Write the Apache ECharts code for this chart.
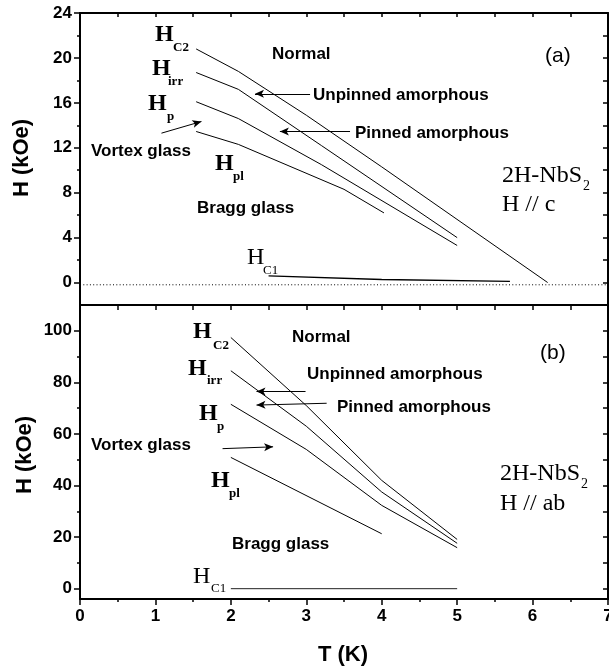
<!DOCTYPE html>
<html>
<head>
<meta charset="utf-8">
<script src="https://cdn.jsdelivr.net/npm/echarts@6/dist/echarts.min.js"></script>
<style>
html,body{margin:0;padding:0;background:#fff;}
#chart{width:609px;height:670px;}
</style>
</head>
<body>
<div id="chart"></div>
<script>
// ---------- Panel (a): H // c ----------
const aHc2T  = [1.54, 2.1, 3.0, 4.0, 6.2];
const aHc2H  = [20.8, 18.8, 14.9, 10.3, 0];
const aHirrT = [1.54, 2.1, 3.2, 5.0];
const aHirrH = [18.7, 17.2, 12.2, 4.0];
const aHpT   = [1.54, 2.1, 3.2, 5.0];
const aHpH   = [16.1, 14.6, 10.5, 3.3];
const aHplT  = [1.54, 2.1, 3.5, 4.03];
const aHplH  = [13.45, 12.3, 8.3, 6.2];
const aHc1T  = [2.5, 4.0, 5.7];
const aHc1H  = [0.6, 0.27, 0.1];
const aBaseT = [0, 7];
const aBaseH = [-0.2, -0.2];

// ---------- Panel (b): H // ab ----------
const bHc2T  = [2.0, 3.0, 4.0, 5.0];
const bHc2H  = [97.4, 71.0, 42.0, 19.1];
const bHirrT = [2.0, 3.0, 4.0, 5.0];
const bHirrH = [84.5, 63.0, 37.5, 17.6];
const bHpT   = [2.0, 3.0, 4.0, 5.0];
const bHpH   = [71.5, 54.0, 32.3, 15.9];
const bHplT  = [2.0, 4.0];
const bHplH  = [50.9, 21.3];
const bHc1T  = [2.0, 5.0];
const bHc1H  = [0, 0];

// ---------- Tick labels ----------
const xTicks      = [0, 1, 2, 3, 4, 5, 6, 7];
const aYTicks     = [0, 4, 8, 12, 16, 20, 24];
const aYMinor     = [2, 6, 10, 14, 18, 22];
const aYRight     = [0, 2, 4, 6, 8, 10, 12, 14, 16, 18, 20, 22];
const bYTicks     = [0, 20, 40, 60, 80, 100];
const bYMinor     = [10, 30, 50, 70, 90];
const bYRight     = [0, 10, 20, 30, 40, 50, 60, 70, 80, 90, 100];

const zip = (xs, ys) => xs.map((x, i) => [x, ys[i]]);

const SANS = 'Liberation Sans, Arial, sans-serif';
const SERIF = 'Liberation Serif, Times New Roman, serif';
const tickLabel = {fontFamily: SANS, fontWeight: 'bold', fontSize: 17, color: '#000'};
const axLine = {show: true, onZero: false, lineStyle: {color: '#000', width: 2}};
const noLine = {show: false, onZero: false};

function lineSeries(xi, yi, data, extra) {
  return Object.assign({
    type: 'line', xAxisIndex: xi, yAxisIndex: yi, data: data,
    showSymbol: false, symbol: 'none', silent: true, animation: false,
    lineStyle: {color: '#000', width: 1}
  }, extra || {});
}

function arrows(list) {
  return {
    silent: true, animation: false, symbol: ['none', 'arrow'], symbolSize: [6, 9],
    label: {show: false},
    lineStyle: {color: '#000', width: 1, type: 'solid'},
    data: list.map(a => [{coord: a[0]}, {coord: a[1]}])
  };
}

const chart = echarts.init(document.getElementById('chart'), null, {renderer: 'canvas'});

// text helpers (y given as baseline)
function txt(s, x, base, size, family, weight) {
  return {type: 'text', silent: true, style: {
    text: s, x: x, y: base - 0.35 * size, fontSize: size, fontFamily: family,
    fontWeight: weight, fill: '#000', textAlign: 'left', textVerticalAlign: 'middle'}};
}
function hlabel(x, base, sub, subX, subBase, bold) {
  const w = bold ? 'bold' : 'normal';
  return [txt('H', x, base, 24, SERIF, w), txt(sub, subX, subBase, 13, SERIF, w)];
}

const graphics = [].concat(
  // panel a
  hlabel(155, 43, 'C2', 173, 52, true),
  hlabel(152, 77, 'irr', 168, 86, true),
  hlabel(148, 112, 'p', 167, 121, true),
  hlabel(215, 172, 'pl', 233, 181, true),
  hlabel(247, 266, 'C1', 263, 275, false),
  [
    txt('Normal', 272, 60, 17, SANS, 'bold'),
    txt('Unpinned amorphous', 313, 101, 17, SANS, 'bold'),
    txt('Pinned amorphous', 355, 139, 17, SANS, 'bold'),
    txt('Vortex glass', 91, 157, 17, SANS, 'bold'),
    txt('Bragg glass', 197, 214, 17, SANS, 'bold'),
    txt('(a)', 545, 64, 21, SANS, 'normal'),
    txt('2H-NbS', 502, 184, 24, SERIF, 'normal'),
    txt('2', 583, 191, 14, SERIF, 'normal'),
    txt('H // c', 502, 213, 24, SERIF, 'normal')
  ],
  // panel b
  hlabel(193, 340, 'C2', 213, 350, true),
  hlabel(188, 377, 'irr', 207, 385, true),
  hlabel(199, 422, 'p', 217, 431, true),
  hlabel(211, 489, 'pl', 229, 498, true),
  hlabel(193, 585, 'C1', 211, 593, false),
  [
    txt('Normal', 292, 343, 17, SANS, 'bold'),
    txt('Unpinned amorphous', 307, 380, 17, SANS, 'bold'),
    txt('Pinned amorphous', 337, 413, 17, SANS, 'bold'),
    txt('Vortex glass', 91, 451, 17, SANS, 'bold'),
    txt('Bragg glass', 232, 550, 17, SANS, 'bold'),
    txt('(b)', 540, 361, 21, SANS, 'normal'),
    txt('2H-NbS', 500, 482, 24, SERIF, 'normal'),
    txt('2', 581, 489, 14, SERIF, 'normal'),
    txt('H // ab', 500, 512, 24, SERIF, 'normal')
  ],
  // axis titles
  [
    {type: 'text', silent: true, rotation: Math.PI / 2, x: 22, y: 158, style: {
      text: 'H (kOe)', x: 0, y: 0, fontSize: 22, fontFamily: SANS, fontWeight: 'bold',
      fill: '#000', textAlign: 'center', textVerticalAlign: 'middle'}},
    {type: 'text', silent: true, rotation: Math.PI / 2, x: 25, y: 455, style: {
      text: 'H (kOe)', x: 0, y: 0, fontSize: 22, fontFamily: SANS, fontWeight: 'bold',
      fill: '#000', textAlign: 'center', textVerticalAlign: 'middle'}},
    {type: 'text', silent: true, style: {
      text: 'T (K)', x: 343, y: 655, fontSize: 22, fontFamily: SANS, fontWeight: 'bold',
      fill: '#000', textAlign: 'center', textVerticalAlign: 'middle'}}
  ]
);

const option = {
  animation: false,
  backgroundColor: '#fff',
  grid: [
    {left: 80, top: 13, width: 528, height: 292, containLabel: false, outerBoundsMode: 'none'},
    {left: 80, top: 305, width: 528, height: 294, containLabel: false, outerBoundsMode: 'none'}
  ],
  xAxis: [
    {gridIndex: 0, type: 'value', position: 'bottom', min: 0, max: 7, interval: 1,
     axisLine: axLine, axisTick: {show: false}, axisLabel: {show: false}, splitLine: {show: false}},
    {gridIndex: 0, type: 'value', position: 'top', min: 0, max: 7, interval: 0.5,
     axisLine: axLine, axisTick: {show: true, inside: true, length: 4, lineStyle: {color: '#000', width: 1.5}},
     axisLabel: {show: false}, splitLine: {show: false}},
    {gridIndex: 1, type: 'value', position: 'bottom', min: 0, max: 7, interval: 1,
     axisLine: axLine,
     axisTick: {show: true, inside: false, length: 6, lineStyle: {color: '#000', width: 1.5}},
     minorTick: {show: true, splitNumber: 2, length: 3, lineStyle: {color: '#000', width: 1.5}},
     axisLabel: Object.assign({show: true, margin: 9, customValues: xTicks}, tickLabel),
     splitLine: {show: false}, minorSplitLine: {show: false}},
    {gridIndex: 1, type: 'value', position: 'top', min: 0, max: 7, interval: 0.5,
     axisLine: axLine, axisTick: {show: true, inside: true, length: 5, lineStyle: {color: '#000', width: 1.5}},
     axisLabel: {show: false}, splitLine: {show: false}}
  ],
  yAxis: [
    {gridIndex: 0, type: 'value', position: 'left', min: -2, max: 24,
     axisLine: axLine,
     axisTick: {show: true, inside: false, length: 6, customValues: aYTicks, lineStyle: {color: '#000', width: 1.5}},
     axisLabel: Object.assign({show: true, margin: 8, customValues: aYTicks}, tickLabel),
     splitLine: {show: false}},
    {gridIndex: 0, type: 'value', position: 'left', min: -2, max: 24,
     axisLine: noLine,
     axisTick: {show: true, inside: false, length: 3, customValues: aYMinor, lineStyle: {color: '#000', width: 1.5}},
     axisLabel: {show: false}, splitLine: {show: false}},
    {gridIndex: 0, type: 'value', position: 'right', min: -2, max: 24,
     axisLine: axLine,
     axisTick: {show: true, inside: true, length: 5, customValues: aYRight, lineStyle: {color: '#000', width: 1.5}},
     axisLabel: {show: false}, splitLine: {show: false}},
    {gridIndex: 1, type: 'value', position: 'left', min: -4, max: 110,
     axisLine: axLine,
     axisTick: {show: true, inside: false, length: 6, customValues: bYTicks, lineStyle: {color: '#000', width: 1.5}},
     axisLabel: Object.assign({show: true, margin: 8, customValues: bYTicks}, tickLabel),
     splitLine: {show: false}},
    {gridIndex: 1, type: 'value', position: 'left', min: -4, max: 110,
     axisLine: noLine,
     axisTick: {show: true, inside: false, length: 3, customValues: bYMinor, lineStyle: {color: '#000', width: 1.5}},
     axisLabel: {show: false}, splitLine: {show: false}},
    {gridIndex: 1, type: 'value', position: 'right', min: -4, max: 110,
     axisLine: axLine,
     axisTick: {show: true, inside: true, length: 5, customValues: bYRight, lineStyle: {color: '#000', width: 1.5}},
     axisLabel: {show: false}, splitLine: {show: false}}
  ],
  series: [
    lineSeries(0, 0, zip(aHc2T, aHc2H)),
    lineSeries(0, 0, zip(aHirrT, aHirrH)),
    lineSeries(0, 0, zip(aHpT, aHpH)),
    lineSeries(0, 0, zip(aHplT, aHplH)),
    lineSeries(0, 0, zip(aHc1T, aHc1H), {lineStyle: {color: '#000', width: 1.3}}),
    lineSeries(0, 0, zip(aBaseT, aBaseH), {
      lineStyle: {color: '#000', width: 1, type: [1, 2.3]},
      markLine: arrows([
        [[3.05, 16.8], [2.32, 16.8]],
        [[3.58, 13.45], [2.65, 13.45]],
        [[1.08, 13.3], [1.61, 14.34]]
      ])
    }),
    lineSeries(2, 3, zip(bHc2T, bHc2H)),
    lineSeries(2, 3, zip(bHirrT, bHirrH)),
    lineSeries(2, 3, zip(bHpT, bHpH)),
    lineSeries(2, 3, zip(bHplT, bHplH)),
    lineSeries(2, 3, zip(bHc1T, bHc1H), {
      lineStyle: {color: '#222', width: 1},
      markLine: arrows([
        [[2.99, 76.5], [2.34, 76.5]],
        [[3.27, 71.9], [2.34, 71.2]],
        [[1.89, 54.3], [2.56, 55.0]]
      ])
    })
  ],
  graphic: graphics
};

chart.setOption(option);
</script>
</body>
</html>
